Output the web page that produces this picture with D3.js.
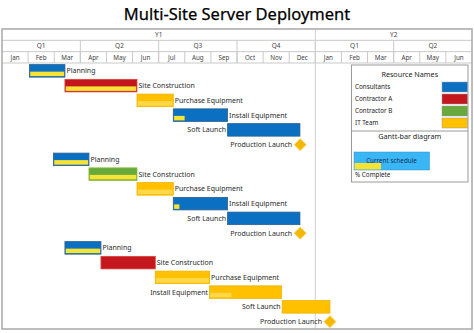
<!DOCTYPE html>
<html>
<head>
<meta charset="utf-8">
<script src="https://cdn.jsdelivr.net/npm/d3@7"></script>
<style>
  html, body { margin: 0; padding: 0; background: #fff; }
  svg { display: block; }
  text { font-family: "Noto Sans", "Open Sans", sans-serif; }
</style>
</head>
<body>
<svg id="chart" width="474" height="333"></svg>
<script>
// ---- Timeline labels ----
const yearLabels = ["Y1", "Y2"];
const yearSpans = [12, 6];
const quarterLabels = ["Q1", "Q2", "Q3", "Q4", "Q1", "Q2"];
const monthLabels = ["Jan", "Feb", "Mar", "Apr", "May", "Jun", "Jul", "Aug", "Sep",
                     "Oct", "Nov", "Dec", "Jan", "Feb", "Mar", "Apr", "May", "Jun"];

// ---- Tasks (start / end in months from the start of Y1) ----
const taskNames = [
  "Planning", "Site Construction", "Purchase Equipment", "Install Equipment", "Soft Launch", "Production Launch",
  "Planning", "Site Construction", "Purchase Equipment", "Install Equipment", "Soft Launch", "Production Launch",
  "Planning", "Site Construction", "Purchase Equipment", "Install Equipment", "Soft Launch", "Production Launch"
];
const taskResources = [
  "Consultants", "Contractor A", "IT Team", "Consultants", "Consultants", "IT Team",
  "Consultants", "Contractor B", "IT Team", "Consultants", "Consultants", "IT Team",
  "Consultants", "Contractor A", "IT Team", "IT Team", "IT Team", "IT Team"
];
const taskStart = [
  1.05, 2.41, 5.17, 6.56, 8.64, 11.42,
  1.97, 3.33, 5.17, 6.56, 8.64, 11.42,
  2.41, 3.79, 5.87, 7.95, 10.73, 12.56
];
const taskEnd = [
  2.41, 5.17, 6.56, 8.64, 11.41, 11.42,
  3.33, 5.17, 6.56, 8.64, 11.41, 11.42,
  3.79, 5.87, 7.95, 10.71, 12.56, 12.56
];
const taskProgress = [
  1, 1, 1, 0.2, 0, 0,
  1, 1, 1, 0.1, 0, 0,
  1, 0, 1, 0.3, 0, 0
];

// ---- Resources ----
const resourceNames = ["Consultants", "Contractor A", "Contractor B", "IT Team"];
const resourceColors = ["#0b70c2", "#c4171d", "#68a93b", "#ffc000"];
const resourceStrokes = ["#2d5f8f", "#d9443e", "#8bbf3a", "#f0b400"];

const svg = d3.select("#chart");
const left = 2, right = 472, headerTop = 29, headerBottom = 63, bottom = 329;
const rowH = (headerBottom - headerTop) / 3;

const x = d3.scaleLinear().domain([0, monthLabels.length]).range([left, right]);
const y = d3.scaleBand().domain(d3.range(taskNames.length))
  .range([headerBottom + 0.5, bottom]).paddingInner(0.15).paddingOuter(0.075);
const colorOf = d3.scaleOrdinal().domain(resourceNames).range(resourceColors);
const strokeOf = d3.scaleOrdinal().domain(resourceNames).range(resourceStrokes);

// Title
svg.append("text")
  .attr("x", 237).attr("y", 20)
  .attr("text-anchor", "middle")
  .attr("font-size", 16.5)
  .attr("fill", "#000")
  .attr("stroke", "#000").attr("stroke-width", 0.25)
  .text("Multi-Site Server Deployment");

// ---- Timescale header ----
const header = svg.append("g");
const gridColor = "#c9c9c9";
const textColor = "#444";

// year row
let acc = 0;
yearLabels.forEach((lab, i) => {
  const x0 = x(acc), x1 = x(acc + yearSpans[i]);
  header.append("text").attr("x", (x0 + x1) / 2).attr("y", headerTop + rowH / 2 + 2.3)
    .attr("text-anchor", "middle").attr("font-size", 6.5).attr("fill", textColor).text(lab);
  acc += yearSpans[i];
});
// quarter row
quarterLabels.forEach((lab, i) => {
  header.append("text").attr("x", x(i * 3 + 1.5)).attr("y", headerTop + rowH * 1.5 + 2.3)
    .attr("text-anchor", "middle").attr("font-size", 6.5).attr("fill", textColor).text(lab);
});
// month row
monthLabels.forEach((lab, i) => {
  header.append("text").attr("x", x(i + 0.5)).attr("y", headerTop + rowH * 2.5 + 2.3)
    .attr("text-anchor", "middle").attr("font-size", 6.3).attr("fill", textColor).text(lab);
});
// horizontal header lines
[headerTop + rowH, headerTop + 2 * rowH, headerBottom].forEach(yy => {
  header.append("line").attr("x1", left).attr("x2", right).attr("y1", yy).attr("y2", yy)
    .attr("stroke", gridColor).attr("stroke-width", 1);
});
// month dividers
d3.range(1, monthLabels.length).forEach(i => {
  header.append("line").attr("x1", x(i)).attr("x2", x(i))
    .attr("y1", headerTop + 2 * rowH).attr("y2", headerBottom)
    .attr("stroke", gridColor);
});
// quarter dividers
d3.range(1, quarterLabels.length).forEach(i => {
  header.append("line").attr("x1", x(i * 3)).attr("x2", x(i * 3))
    .attr("y1", headerTop + rowH).attr("y2", headerBottom)
    .attr("stroke", gridColor);
});
// year divider runs through the whole chart
const yearBoundary = x(yearSpans[0]);
svg.append("line").attr("x1", yearBoundary).attr("x2", yearBoundary)
  .attr("y1", headerTop).attr("y2", bottom)
  .attr("stroke", "#cfcfcf");

// outer frame
svg.append("rect").attr("x", left).attr("y", headerTop)
  .attr("width", right - left).attr("height", bottom - headerTop)
  .attr("fill", "none").attr("stroke", "#a8a8a8").attr("stroke-width", 1.5);

// ---- Tasks ----
const tasks = taskNames.map((name, i) => ({
  name, res: taskResources[i], start: taskStart[i], end: taskEnd[i],
  progress: taskProgress[i], row: i, milestone: taskEnd[i] === taskStart[i]
}));

const bars = svg.append("g");
const bh = y.bandwidth();

tasks.filter(d => !d.milestone).forEach(d => {
  const x0 = x(d.start), x1 = x(d.end), y0 = y(d.row);
  bars.append("rect")
    .attr("x", x0).attr("y", y0).attr("width", x1 - x0).attr("height", bh)
    .attr("fill", colorOf(d.res))
    .attr("stroke", strokeOf(d.res)).attr("stroke-width", 0.8);
  if (d.progress > 0) {
    const pw = (x1 - x0 - 1.6) * d.progress;
    bars.append("rect")
      .attr("x", x0 + 0.8).attr("y", y0 + bh * 0.56)
      .attr("width", pw).attr("height", bh * 0.36)
      .attr("fill", d.res === "IT Team" ? "#ffd84a" : "#f7e236");
  }
});

// milestones
tasks.filter(d => d.milestone).forEach(d => {
  const cx = x(d.start), cy = y(d.row) + bh / 2, r = 6;
  bars.append("path")
    .attr("d", `M${cx},${cy - r}L${cx + r},${cy}L${cx},${cy + r}L${cx - r},${cy}Z`)
    .attr("fill", "#f5b800").attr("stroke", "#ffd24d").attr("stroke-width", 0.8);
});

// task labels: right of the bar unless that would cross into the next year
const labels = svg.append("g");
tasks.forEach(d => {
  const cy = y(d.row) + bh / 2 + 2.5;
  const t = labels.append("text").attr("font-size", 7).attr("fill", "#2a2a2a").attr("y", cy).text(d.name);
  const w = t.node().getComputedTextLength();
  if (d.milestone) {
    t.attr("x", x(d.start) - 8).attr("text-anchor", "end");
  } else if (x(d.end) + 2 + w <= yearBoundary) {
    t.attr("x", x(d.end) + 1.5).attr("text-anchor", "start");
  } else {
    t.attr("x", x(d.start) - 1.5).attr("text-anchor", "end");
  }
});

// ---- Legend ----
const lg = svg.append("g");
const lx0 = 351.5, lx1 = 468, ly0 = 65, ly1 = 182, ldiv = 131;
lg.append("rect").attr("x", lx0).attr("y", ly0).attr("width", lx1 - lx0).attr("height", ly1 - ly0)
  .attr("fill", "#fff").attr("stroke", "#9a9a9a").attr("stroke-width", 1);
lg.append("line").attr("x1", lx0).attr("x2", lx1).attr("y1", ldiv).attr("y2", ldiv)
  .attr("stroke", "#9a9a9a");
lg.append("text").attr("x", (lx0 + lx1) / 2).attr("y", 77).attr("text-anchor", "middle")
  .attr("font-size", 7.2).attr("fill", "#222").text("Resource Names");

const ly = d3.scalePoint().domain(resourceNames).range([87, 123]);
resourceNames.forEach((r, i) => {
  lg.append("text").attr("x", 355).attr("y", ly(r) + 2.4).attr("font-size", 6.3)
    .attr("fill", "#222").text(r);
  lg.append("rect").attr("x", 442).attr("y", ly(r) - 5).attr("width", 25.5).attr("height", 10)
    .attr("fill", resourceColors[i]).attr("stroke", "#9a9a9a").attr("stroke-width", 0.5);
});

lg.append("text").attr("x", (lx0 + lx1) / 2).attr("y", 139).attr("text-anchor", "middle")
  .attr("font-size", 7.2).attr("fill", "#222").text("Gantt-bar diagram");
lg.append("rect").attr("x", 354).attr("y", 152).attr("width", 75.5).attr("height", 18)
  .attr("fill", "#3bb6f4").attr("stroke", "#2a8fd0").attr("stroke-width", 0.5);
lg.append("rect").attr("x", 354.5).attr("y", 163).attr("width", 26.5).attr("height", 6.5)
  .attr("fill", "#f7e236");
lg.append("text").attr("x", 391.5).attr("y", 162.5).attr("text-anchor", "middle")
  .attr("font-size", 6.3).attr("fill", "#12305a").text("Current schedule");
lg.append("text").attr("x", 355).attr("y", 176.5).attr("font-size", 6.3)
  .attr("fill", "#222").text("% Complete");
</script>
</body>
</html>
